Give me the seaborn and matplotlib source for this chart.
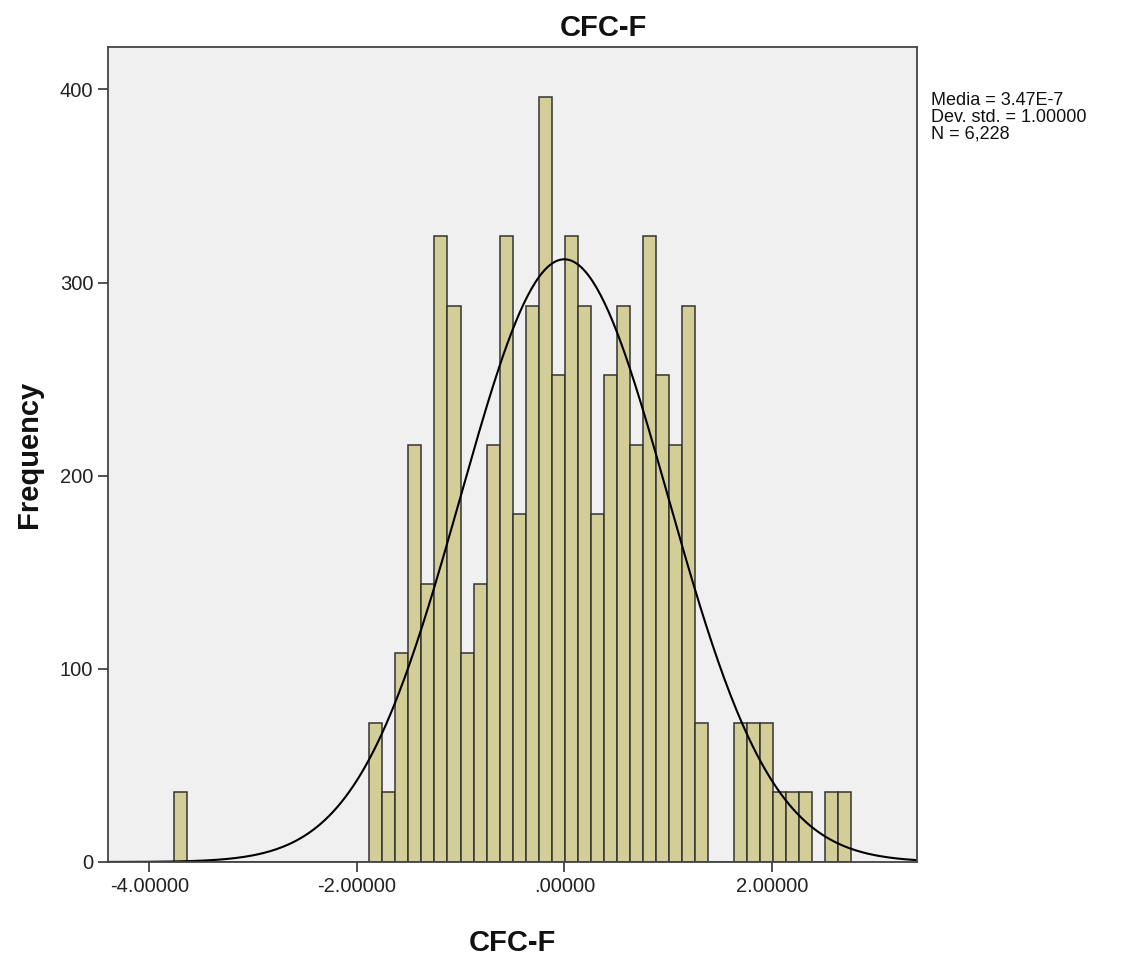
import numpy as np
import pandas as pd
import seaborn as sns
import matplotlib.pyplot as plt

# Histogram of CFC-F (z scores), counts
bin_start = -3.764
bin_width = 0.1256
counts = [36, 0, 0, 0, 0, 0, 0, 0, 0, 0, 0, 0, 0, 0, 0,
          72, 36, 108, 216, 144, 324, 288, 108, 144, 216, 324, 180, 288,
          396, 252, 324, 288, 180, 252, 288, 216, 324, 252, 216, 288, 72,
          0, 0, 72, 72, 72, 36, 36, 36, 0, 36, 36]

x_ticks = [-4, -2, 0, 2]
x_tick_labels = ['-4.00000', '-2.00000', '.00000', '2.00000']
y_ticks = [0, 100, 200, 300, 400]

mean_val = 3.47e-7
std_val = 1.0
n_val = 6228

bar_color = '#d3ce97'
edge_color = '#333333'

sns.set_theme(style='ticks')
plt.rcParams['font.family'] = ['Liberation Sans', 'DejaVu Sans']

edges = bin_start + bin_width * np.arange(len(counts) + 1)
centers = (edges[:-1] + edges[1:]) / 2
df = pd.DataFrame({'z': centers, 'freq': counts})
df = df[df['freq'] > 0]

fig = plt.figure(figsize=(11.28, 9.55), dpi=100)
ax = fig.add_axes([0.0957, 0.0974, 0.7172, 0.8534])
ax.set_facecolor('#f0f0f0')

sns.histplot(data=df, x='z', weights='freq', binwidth=bin_width,
             binrange=(float(edges[0]), float(edges[-1])), ax=ax,
             color=bar_color, edgecolor=edge_color, linewidth=1.1, alpha=1)

# normal curve scaled to the histogram
xs = np.linspace(-4.4, 3.4, 400)
pdf = np.exp(-0.5 * ((xs - mean_val) / std_val) ** 2) / (std_val * np.sqrt(2 * np.pi))
curve = pd.DataFrame({'x': xs, 'y': n_val * bin_width * pdf})
sns.lineplot(data=curve, x='x', y='y', ax=ax, color='black', linewidth=1.5)

ax.set_xlim(-4.40, 3.40)
ax.set_ylim(0, 422)
ax.set_xticks(x_ticks)
ax.set_xticklabels(x_tick_labels)
ax.set_yticks(y_ticks)
ax.tick_params(axis='both', labelsize=14.5, length=7.5, width=1.2, color='#333333',
               labelcolor='#222222', pad=3)

for sp in ax.spines.values():
    sp.set_visible(True)
    sp.set_color('#444444')
    sp.set_linewidth(1.3)

# SPSS centres the title over the whole chart area
fig.text(0.5346, 0.971, 'CFC-F', fontsize=21, fontweight='bold',
         ha='center', va='center', color='#111111')
ax.set_xlabel('CFC-F', fontsize=21, fontweight='bold', labelpad=24, color='#111111')
ax.set_ylabel('Frequency', fontsize=21, fontweight='bold', labelpad=12, color='#111111')

stats_txt = 'Media = 3.47E-7\nDev. std. = 1.00000\nN = 6,228'
fig.text(0.825, 0.904, stats_txt, fontsize=13, va='top', ha='left',
         linespacing=1.0, color='#111111')

fig.savefig('out.png', dpi=100, facecolor='white')
